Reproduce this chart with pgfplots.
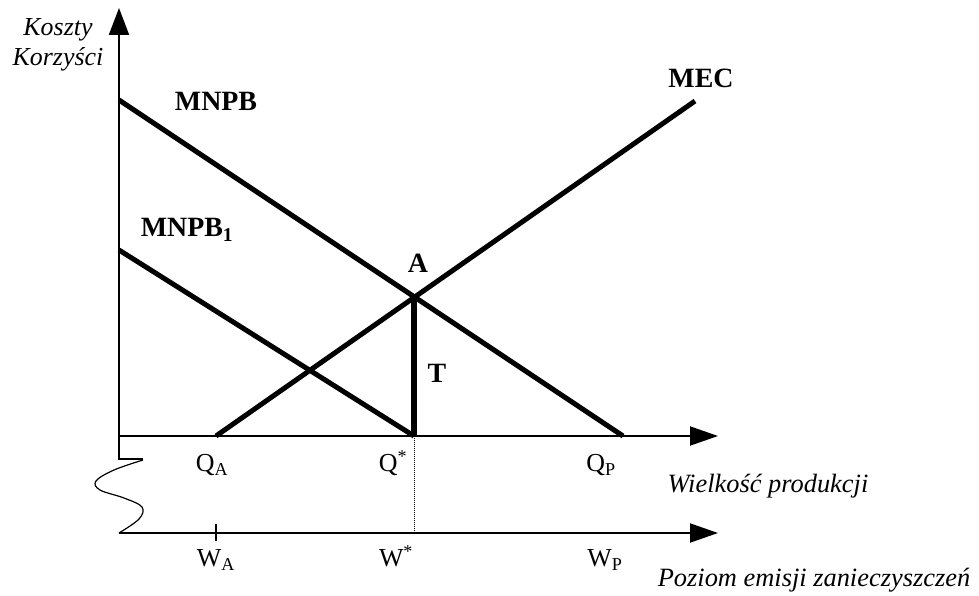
\documentclass[border=0pt]{standalone}
\usepackage{fontspec}
\setmainfont{Liberation Serif}
\usepackage{pgfplots}
\pgfplotsset{compat=1.18}
\usetikzlibrary{arrows.meta}

\begin{document}
\fontsize{26}{30}\selectfont
\begin{tikzpicture}[
  curvelabel/.style={font=\fontsize{28}{32}\selectfont\bfseries},
  axislabel/.style={font=\fontsize{26.5}{30}\selectfont\itshape},
]
\begin{axis}[
  name=ax,
  width=979bp, height=596bp, scale only axis,
  xmin=0, xmax=979, ymin=0, ymax=596,
  y dir=reverse,
  hide axis, clip=false,
]
% axes with arrow heads
\addplot[line width=2bp, -{Triangle[length=27bp,width=20bp]}] coordinates {(119,460) (119,8)};
\addplot[line width=2bp, -{Triangle[length=28bp,width=19bp]}] coordinates {(119,436) (718,436)};
\addplot[line width=2bp, -{Triangle[length=28bp,width=19bp]}] coordinates {(119,533) (718,533)};
% break of the vertical axis
\addplot[line width=2bp] coordinates {(119,459) (143,459)};
\addplot[line width=1.2bp, smooth, tension=0.6] coordinates {
  (143,460) (114,470) (96,481) (100,490) (124,498) (142,507) (139,519) (119,533)};
% tick on the emission axis
\addplot[line width=1.5bp] coordinates {(216,524) (216,541)};
% link between Q* and W*
\addplot[line width=1bp, densely dotted] coordinates {(414,436) (414,533)};

% curves
\addplot[line width=5bp] coordinates {(119,100) (623,436)}; % MNPB
\addplot[line width=5bp] coordinates {(119,250) (414,436)}; % MNPB1
\addplot[line width=5bp] coordinates {(216,436) (695,101)}; % MEC
\addplot[line width=6bp] coordinates {(414,296) (414,436)}; % T

% labels
\node[font=\itshape, align=center] at (axis cs:58,45) {Koszty\\Korzyści};
\node[curvelabel] at (axis cs:216,101) {MNPB};
\node[curvelabel] at (axis cs:187,230) {MNPB\textsubscript{1}};
\node[curvelabel] at (axis cs:701,78) {MEC};
\node[curvelabel] at (axis cs:418,263) {A};
\node[curvelabel] at (axis cs:437,373) {T};
\node at (axis cs:212,465) {Q\textsubscript{A}};
\node at (axis cs:393,463) {Q\textsuperscript{*}};
\node at (axis cs:601,465) {Q\textsubscript{P}};
\node at (axis cs:216,560) {W\textsubscript{A}};
\node at (axis cs:396,556) {W\textsuperscript{*}};
\node at (axis cs:605,560) {W\textsubscript{P}};
\node[axislabel] at (axis cs:768,486) {Wielkość produkcji};
\node[axislabel] at (axis cs:814,580) {Poziom emisji zanieczyszczeń};
\end{axis}
\pgfresetboundingbox
\path[use as bounding box] (ax.south west) rectangle (ax.north east);
\end{tikzpicture}
\end{document}
